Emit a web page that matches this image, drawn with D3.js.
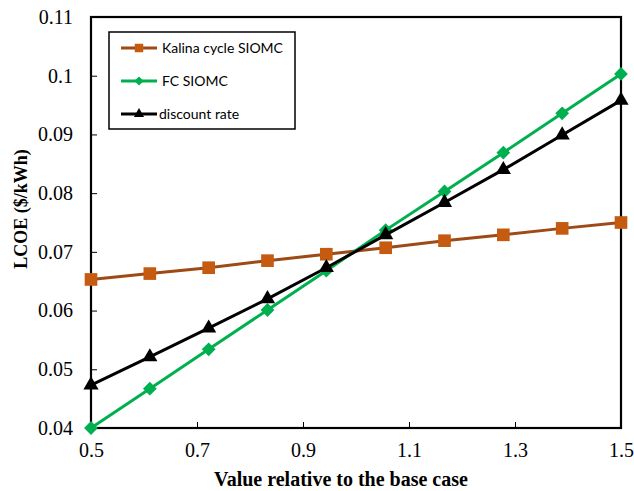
<!DOCTYPE html>
<html>
<head>
<meta charset="utf-8">
<script src="https://cdn.jsdelivr.net/npm/d3@7"></script>
<style>
  body { margin: 0; background: #fff; }
  .tick text { font-family: "Liberation Serif", "Times New Roman", serif; font-size: 20px; fill: #000; }
  .tick line { stroke: #000; stroke-width: 1; }
  .legend text { font-family: Lato, "Liberation Sans", sans-serif; font-size: 14px; fill: #000; }
</style>
</head>
<body>
<script>
// relative value of each parameter (10 steps from 0.5 to 1.5)
var xValues = [0.5, 0.611, 0.722, 0.833, 0.944, 1.056, 1.167, 1.278, 1.389, 1.5];

// LCOE ($/kWh)
var kalinaSiomc = [0.0653, 0.0663, 0.0673, 0.0685, 0.0696, 0.0707, 0.0719, 0.0729, 0.0740, 0.0750];
var fcSiomc = [0.0400, 0.0467, 0.0534, 0.0601, 0.0668, 0.0737, 0.0803, 0.0869, 0.0936, 0.1003];
var discountRate = [0.0473, 0.0521, 0.0570, 0.0620, 0.0673, 0.0729, 0.0784, 0.0840, 0.0899, 0.0958];

var seriesNames = ["Kalina cycle SIOMC", "FC SIOMC", "discount rate"];

var xTicks = [0.5, 0.7, 0.9, 1.1, 1.3, 1.5];
var yTicks = [0.04, 0.05, 0.06, 0.07, 0.08, 0.09, 0.1, 0.11];

window.onload = drawChart();

function drawChart(){
    var width = 634,
        height = 491,
        margin = {top: 17, right: 13, bottom: 63, left: 91};

    var svg = d3.select("body")
        .append("svg")
        .attr("width", width)
        .attr("height", height);

    var x = d3.scaleLinear().domain([0.5, 1.5]).range([margin.left, width - margin.right]);
    var y = d3.scaleLinear().domain([0.04, 0.11]).range([height - margin.bottom, margin.top]);

    //axes with inward ticks
    svg.append("g")
        .attr("transform", "translate(0," + (height - margin.bottom) + ")")
        .call(d3.axisBottom(x).tickValues(xTicks).tickFormat(d3.format(".1f"))
            .tickSizeInner(-6).tickSizeOuter(0).tickPadding(15))
        .call(g => g.select(".domain").remove());

    svg.append("g")
        .attr("transform", "translate(" + margin.left + ",0)")
        .call(d3.axisLeft(y).tickValues(yTicks).tickFormat(d => String(+d.toFixed(2)))
            .tickSizeInner(-6).tickSizeOuter(0).tickPadding(18))
        .call(g => g.select(".domain").remove());

    //plot frame
    svg.append("rect")
        .attr("x", x(0.5))
        .attr("y", y(0.11))
        .attr("width", x(1.5) - x(0.5))
        .attr("height", y(0.04) - y(0.11))
        .attr("fill", "none")
        .attr("stroke", "#000")
        .attr("stroke-width", 2.2);

    var series = [
        {name: seriesNames[0], values: kalinaSiomc, line: "#9E4A17", fill: "#C55A11", symbol: d3.symbolSquare, size: 160, rot: 0},
        {name: seriesNames[1], values: fcSiomc, line: "#00B050", fill: "#00B050", symbol: d3.symbolSquare, size: 95, rot: 45},
        {name: seriesNames[2], values: discountRate, line: "#000", fill: "#000", symbol: d3.symbolTriangle, size: 100, rot: 0}
    ];

    var line = d3.line()
        .x((d, i) => x(xValues[i]))
        .y(d => y(d));

    series.forEach(function(s){
        svg.append("path")
            .datum(s.values)
            .attr("fill", "none")
            .attr("stroke", s.line)
            .attr("stroke-width", 3)
            .attr("d", line);

        svg.selectAll(null)
            .data(s.values)
            .enter()
            .append("path")
            .attr("d", d3.symbol().type(s.symbol).size(s.size))
            .attr("transform", (d, i) => "translate(" + x(xValues[i]) + "," + y(d) + ") rotate(" + s.rot + ")")
            .attr("fill", s.fill);
    });

    //legend
    var legend = svg.append("g").attr("class", "legend");
    legend.append("rect")
        .attr("x", 109).attr("y", 32)
        .attr("width", 186).attr("height", 97)
        .attr("fill", "#fff")
        .attr("stroke", "#000")
        .attr("stroke-width", 1.5);

    series.forEach(function(s, i){
        var ly = 48 + i * 33;
        legend.append("line")
            .attr("x1", 121).attr("x2", 157)
            .attr("y1", ly).attr("y2", ly)
            .attr("stroke", s.line)
            .attr("stroke-width", 3);
        legend.append("path")
            .attr("d", d3.symbol().type(s.symbol).size(s.size * 0.45))
            .attr("transform", "translate(139," + ly + ") rotate(" + s.rot + ")")
            .attr("fill", s.fill);
        legend.append("text")
            .attr("x", i == 2 ? 159 : 162)
            .attr("y", ly)
            .attr("dy", "0.35em")
            .text(s.name);
    });

    //axis titles
    svg.append("text")
        .attr("x", 341)
        .attr("y", 486)
        .attr("text-anchor", "middle")
        .style("font-family", "'Liberation Serif', 'Times New Roman', serif")
        .style("font-weight", "bold")
        .style("font-size", "20px")
        .text("Value relative to the base case");

    svg.append("text")
        .attr("transform", "translate(27," + 209 + ") rotate(-90)")
        .attr("text-anchor", "middle")
        .style("font-family", "'Liberation Serif', 'Times New Roman', serif")
        .style("font-weight", "bold")
        .style("font-size", "18px")
        .text("LCOE ($/kWh)");
}
</script>
</body>
</html>
